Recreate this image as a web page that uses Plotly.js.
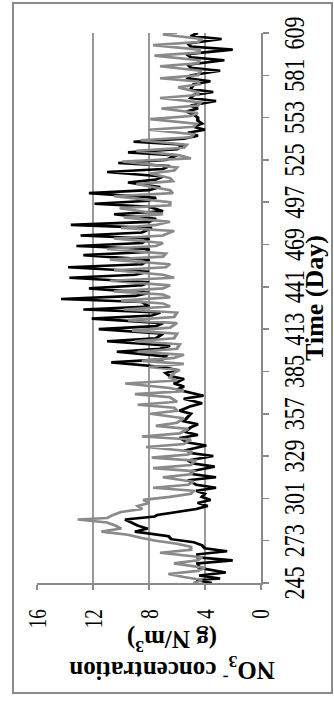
<!DOCTYPE html>
<html><head><meta charset="utf-8">
<script src="https://cdn.plot.ly/plotly-3.0.1.min.js"></script>
<style>
html,body{margin:0;padding:0;background:#fff;width:334px;height:706px;overflow:hidden;}
#frame{position:absolute;left:12px;top:2px;width:321px;height:692px;border:2px solid #8a8a8a;box-sizing:border-box;}
#wrap{position:absolute;left:0;top:0;width:706px;height:250px;transform-origin:0 0;transform:translate(0px,706px) rotate(-90deg) scale(1,1.336);}
#chart{width:706px;height:250px;}
.ttl{position:absolute;font-family:"Liberation Serif","Times New Roman",serif;font-weight:bold;color:#000;white-space:nowrap;text-align:center;}
.ttl sub,.ttl sup{font-size:0.7em;line-height:0;}
#xt{left:315px;top:298px;font-size:26px;line-height:1;transform:translate(-50%,-50%) rotate(-90deg);}
#yt{left:172px;top:655px;font-size:25px;line-height:1.25;transform:translate(-50%,-50%) rotate(180deg);}
</style></head>
<body>
<div id="frame"></div>
<div id="wrap"><div id="chart"></div></div>
<div class="ttl" id="xt">Time (Day)</div>
<div class="ttl" id="yt">NO<sub>3</sub><sup>-</sup> concentration<br>(g N/m<sup>3</sup>)</div>
<script>
const tickDays = [245,273,301,329,357,385,413,441,469,497,525,553,581,609];
const yTicks = [0,4,8,12,16];

const blackDays = [245,247,248,250,252,255,258,260,262,264,266,268,270,272,274,276,279,281,283,285,287,289,290,292,294,296,298,300,302,
304,306,308,310,313,315,317,319,322,324,326,329,331,333,336,338,341,343,345,348,350,352,355,357,359,362,364,367,
369,371,373,375,377,380,382,384,386,388,391,393,395,398,400,402,405,407,410,413,415,417,420,422,424,426,428,
431,433,435,437,440,442,444,447,449,451,454,456,459,462,464,466,468,470,473,475,477,480,482,484,486,489,491,
494,496,498,500,503,505,507,510,512,514,517,519,521,523,525,528,530,532,535,537,539,541,543,545,547,549,551,
553,555,557,559,561,564,566,568,570,572,575,577,579,581,584,586,588,591,593,595,598,600,602,605,607,609];
const blackVals = [3.5,4.6,2.9,4.4,2.5,4.4,4.5,2.0,4.5,4.5,2.4,4.0,4.2,4.8,6.4,6.6,9.0,8.1,8.8,9.2,9.7,7.6,7.4,6.0,4.6,3.8,4.5,3.6,4.2,
4.0,4.6,3.2,4.6,5.2,3.2,4.8,5.0,3.3,4.8,5.2,3.4,5.0,5.3,3.9,5.2,5.8,4.5,5.4,5.0,4.5,5.5,5.2,5.0,5.8,5.0,4.2,5.5,
4.1,5.0,6.0,5.5,6.2,5.5,6.5,6.8,6.0,7.0,10.7,7.0,6.8,10.3,7.2,6.5,11.0,7.5,7.0,11.6,7.5,7.0,12.1,7.8,7.2,12.7,8.0,
8.5,14.3,9.0,8.0,12.3,8.5,8.0,13.7,9.0,8.0,13.8,8.5,8.0,12.7,8.2,8.0,13.2,8.5,8.0,12.9,8.5,7.8,13.6,8.0,7.5,10.5,7.0,
8.0,11.9,8.0,7.5,12.3,8.0,7.2,9.5,7.5,7.0,11.0,7.0,6.5,10.2,6.8,6.0,9.5,6.0,5.5,9.1,5.5,4.5,5.2,4.0,4.8,4.2,4.5,
4.5,4.8,5.3,4.5,5.0,3.2,5.0,4.8,3.4,5.0,4.8,3.6,5.2,5.0,2.9,5.0,5.2,2.6,5.0,5.3,2.0,5.0,5.2,2.8,5.0,4.5];

const grayDays = [245,247,249,251,253,255,258,260,262,265,267,269,271,273,275,277,279,281,283,285,287,288,290,292,294,296,298,300,302,
304,306,308,310,312,315,317,319,321,323,326,328,330,332,335,337,340,342,344,347,349,351,354,357,359,361,363,365,
368,370,372,374,377,379,381,384,386,388,390,392,394,396,398,400,403,405,407,410,412,414,417,419,421,424,426,428,
430,432,434,436,438,440,442,445,447,449,452,454,456,459,461,463,466,468,470,473,475,478,480,482,484,487,489,
493,495,497,501,503,505,509,511,513,516,518,520,524,526,528,531,533,535,538,540,542,545,547,549,552,554,556,
559,561,563,566,568,570,573,575,577,579,581,584,587,589,591,594,596,598,601,603,605,608,609];
const grayVals = [4.8,4.2,5.5,6.6,4.5,4.0,6.2,4.5,4.2,7.2,5.0,5.0,6.0,7.5,8.6,9.5,11.4,10.0,10.4,11.0,13.1,11.0,10.6,10.0,8.5,8.8,8.0,8.4,6.5,
5.0,4.8,7.7,5.2,4.8,7.0,5.0,4.8,7.7,5.0,4.7,7.8,5.2,4.9,8.2,5.5,5.0,8.5,5.8,5.2,7.5,6.0,5.5,7.9,6.0,6.2,8.8,6.0,
6.5,9.0,5.5,6.5,9.7,6.0,6.5,6.2,5.8,8.0,5.5,8.5,6.2,5.5,8.8,6.0,5.8,9.0,6.2,6.0,9.2,6.5,6.0,9.5,6.2,6.0,9.8,6.5,
7.0,10.0,6.5,7.0,10.5,7.0,6.5,10.8,6.2,7.0,10.5,6.8,6.5,10.8,7.0,6.8,11.0,7.5,7.0,10.5,7.0,6.2,10.0,7.5,6.5,9.8,7.0,
10.1,6.5,6.5,10.5,6.3,6.5,8.9,6.3,6.5,7.9,6.2,6.0,9.9,5.0,5.8,8.9,5.5,5.3,8.6,5.0,4.8,8.0,4.8,4.6,7.9,5.0,4.5,
7.1,4.5,4.3,7.2,4.5,4.5,5.9,4.4,4.5,7.2,4.5,4.3,7.2,4.5,4.4,7.6,4.4,4.4,7.7,4.5,4.2,7.0,6.0];

const traces = [
  {x: blackDays, y: blackVals, type:'scatter', mode:'lines', line:{color:'#000000', width:2.6}, hoverinfo:'skip'},
  {x: grayDays, y: grayVals, type:'scatter', mode:'lines', line:{color:'#8a8a8a', width:2.6}, hoverinfo:'skip'}
];

const fontFam = '"Liberation Serif", "Times New Roman", serif';
const layout = {
  width:706, height:250,
  margin:{l:123, r:33, t:28.4, b:55.4},
  paper_bgcolor:'rgba(0,0,0,0)', plot_bgcolor:'rgba(0,0,0,0)',
  showlegend:false,
  font:{family:fontFam, color:'#000'},
  xaxis:{range:[245,609], tickvals:tickDays, ticktext:tickDays.map(String), showgrid:false, zeroline:false,
    showline:true, linecolor:'#8a8a8a', linewidth:1.5, ticks:'outside', ticklen:5, tickwidth:1.5, tickcolor:'#8a8a8a',
    tickfont:{size:22, family:fontFam}, ticklabelstandoff:0},
  yaxis:{range:[0,16], tickvals:yTicks, showgrid:true, gridcolor:'#999999', gridwidth:1.5, zeroline:false,
    showline:true, linecolor:'#8a8a8a', linewidth:1.5, ticks:'outside', ticklen:5, tickwidth:1.5, tickcolor:'#8a8a8a',
    tickfont:{size:19, family:fontFam}, ticklabelstandoff:16}
};
Plotly.newPlot('chart', traces, layout, {staticPlot:true, displayModeBar:false});
</script>
</body></html>
